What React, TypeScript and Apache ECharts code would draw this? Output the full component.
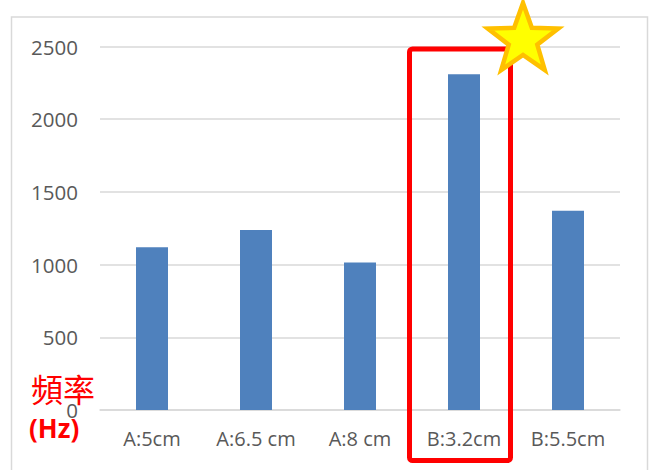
import React, { useEffect, useRef } from "react";
import * as echarts from "echarts";

const categories = ["A:5cm", "A:6.5 cm", "A:8 cm", "B:3.2cm", "B:5.5cm"];
const values = [1120, 1238, 1015, 2310, 1370];
const yTicks = { min: 0, max: 2500, interval: 500 };
const unitLabelTop = "頻率";
const unitLabelBottom = "(Hz)";

function starPoints(cx: number, cy: number, R: number, r: number): number[][] {
  const pts: number[][] = [];
  for (let i = 0; i < 10; i++) {
    const rad = i % 2 === 0 ? R : r;
    const a = -Math.PI / 2 + (i * Math.PI) / 5;
    pts.push([cx + rad * Math.cos(a), cy + rad * Math.sin(a)]);
  }
  return pts;
}

export default function App() {
  const ref = useRef<HTMLDivElement>(null);
  useEffect(() => {
    if (!ref.current) return;
    const chart = echarts.init(ref.current, null, { renderer: "svg" });
    const font = "'Open Sans', 'Liberation Sans', sans-serif";
    chart.setOption({
      animation: false,
      backgroundColor: "#ffffff",
      grid: { left: 100, right: 32, top: 46.5, bottom: 60, containLabel: false },
      xAxis: {
        type: "category",
        data: categories,
        axisLine: { show: true, lineStyle: { color: "#D9D9D9", width: 1.5 } },
        axisTick: { show: false },
        axisLabel: {
          color: "#595959",
          fontSize: 20,
          fontFamily: font,
          margin: 18,
          interval: 0,
          hideOverlap: false,
        },
        splitLine: { show: false },
      },
      yAxis: {
        type: "value",
        min: yTicks.min,
        max: yTicks.max,
        interval: yTicks.interval,
        axisLine: { show: false },
        axisTick: { show: false },
        axisLabel: {
          color: "#595959",
          fontSize: 20.5,
          fontFamily: font,
          margin: 22,
          formatter: (v: number) => String(v),
        },
        splitLine: { show: true, lineStyle: { color: "#D9D9D9", width: 1.5 } },
      },
      series: [
        {
          type: "bar",
          data: values,
          barWidth: 32,
          itemStyle: { color: "#4F81BD" },
        },
      ],
      graphic: [
        {
          type: "rect",
          shape: { x: 11.5, y: 17, width: 636, height: 470 },
          style: { fill: "none", stroke: "#D9D9D9", lineWidth: 1.5 },
          z: 0,
          silent: true,
        },
        {
          type: "rect",
          shape: { x: 409.5, y: 49, width: 101, height: 411.5, r: 3 },
          style: { fill: "none", stroke: "#FF0000", lineWidth: 5 },
          z: 10,
        },
        {
          type: "polygon",
          shape: { points: starPoints(523, 40, 37, 15) },
          style: { fill: "#FFFF00", stroke: "#FFC000", lineWidth: 4.5, lineJoin: "miter" },
          z: 11,
        },
        {
          type: "text",
          x: 31,
          y: 388,
          style: {
            text: unitLabelTop,
            fill: "#FF0000",
            font: "32px 'Noto Sans CJK TC', sans-serif",
            verticalAlign: "middle",
          },
          z: 12,
        },
        {
          type: "text",
          x: 29,
          y: 428,
          style: {
            text: unitLabelBottom,
            fill: "#FF0000",
            font: "bold 26px 'Open Sans', sans-serif",
            verticalAlign: "middle",
          },
          z: 12,
        },
      ],
    });
    return () => chart.dispose();
  }, []);
  return (
    <div
      ref={ref}
      style={{ position: "fixed", left: 0, top: 0, width: 652, height: 470 }}
    />
  );
}
